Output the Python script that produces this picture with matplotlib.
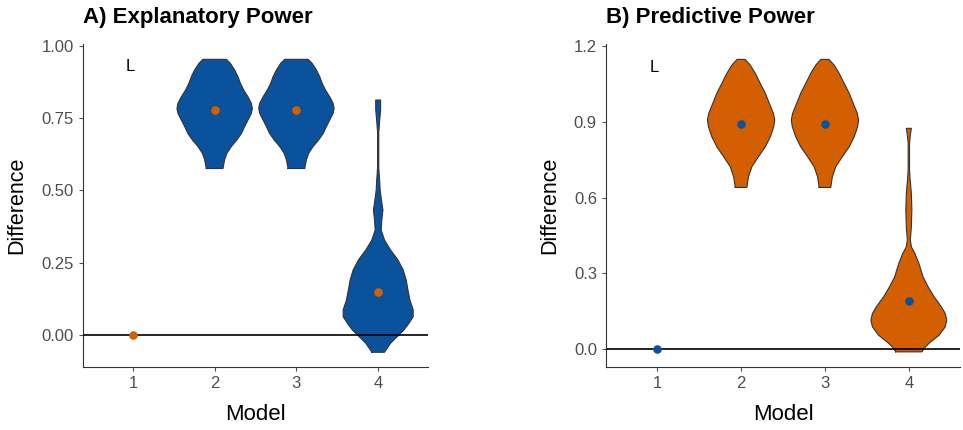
import matplotlib
matplotlib.use("Agg")
import matplotlib.pyplot as plt
import numpy as np

plt.rcParams['font.family'] = ['Liberation Sans', 'DejaVu Sans']

# model positions and point estimates
models = [1, 2, 3, 4]
expl_points = [0.0, 0.78, 0.78, 0.15]
pred_points = [0.0, 0.89, 0.89, 0.19]

# violin outlines: y levels and half widths (in model units)
expl_v2_y = [0.576, 0.606, 0.629, 0.652, 0.675, 0.697, 0.721, 0.744, 0.767, 0.784,
             0.802, 0.824, 0.848, 0.871, 0.894, 0.917, 0.940, 0.954]
expl_v2_w = [0.102, 0.122, 0.151, 0.204, 0.273, 0.327, 0.367, 0.408, 0.449, 0.461,
             0.449, 0.408, 0.355, 0.315, 0.285, 0.245, 0.192, 0.143]
expl_v4_y = [-0.060, -0.029, -0.006, 0.017, 0.040, 0.063, 0.087, 0.121, 0.156, 0.190,
             0.225, 0.260, 0.294, 0.329, 0.363, 0.398, 0.433, 0.467, 0.502, 0.536,
             0.58, 0.70, 0.74, 0.78, 0.813]
expl_v4_w = [0.077, 0.151, 0.233, 0.315, 0.376, 0.428, 0.428, 0.388, 0.364, 0.343,
             0.306, 0.241, 0.151, 0.077, 0.037, 0.045, 0.058, 0.040, 0.024, 0.018,
             0.007, 0.007, 0.018, 0.030, 0.030]
pred_v2_y = [0.640, 0.682, 0.722, 0.762, 0.801, 0.841, 0.880, 0.907, 0.933, 0.973,
             1.013, 1.052, 1.092, 1.125, 1.147]
pred_v2_w = [0.069, 0.088, 0.129, 0.208, 0.289, 0.349, 0.389, 0.401, 0.386, 0.337,
             0.289, 0.229, 0.169, 0.108, 0.048]
pred_v4_y = [-0.011, 0.003, 0.023, 0.055, 0.088, 0.115, 0.141, 0.168, 0.207, 0.247,
             0.286, 0.339, 0.379, 0.405, 0.432, 0.484, 0.551, 0.617, 0.669, 0.709,
             0.815, 0.848, 0.874]
pred_v4_w = [0.157, 0.181, 0.241, 0.361, 0.434, 0.452, 0.434, 0.386, 0.301, 0.229,
             0.169, 0.120, 0.072, 0.030, 0.018, 0.030, 0.036, 0.030, 0.016, 0.008,
             0.008, 0.018, 0.030]

blue = '#0B529D'
orange = '#D45F00'
grey = '#4D4D4D'


def draw_violin(ax, x, ys, ws, color):
    ys = np.array(ys)
    ws = np.array(ws)
    ax.fill_betweenx(ys, x - ws, x + ws, facecolor=color, edgecolor='none', zorder=2)
    # outline incl. flat top / bottom
    ox = np.concatenate([x - ws, (x + ws)[::-1], [x - ws[0]]])
    oy = np.concatenate([ys, ys[::-1], [ys[0]]])
    ax.plot(ox, oy, color='#333333', lw=0.8, zorder=3, solid_joinstyle='round')


def style_axes(ax, title, yticks, ylabels, ylim):
    ax.set_xlim(0.39, 4.61)
    ax.set_ylim(*ylim)
    ax.axhline(0, color='black', lw=1.2, zorder=4)
    ax.set_xticks(models)
    ax.set_xticklabels([str(m) for m in models])
    ax.set_yticks(yticks)
    ax.set_yticklabels(ylabels)
    ax.tick_params(colors=grey, labelsize=12, length=3, width=0.8)
    for s in ['top', 'right']:
        ax.spines[s].set_visible(False)
    ax.spines['left'].set_color('#333333')
    ax.spines['bottom'].set_color('#333333')
    ax.set_xlabel('Model', fontsize=16, labelpad=9)
    ax.set_ylabel('Difference', fontsize=15.5, labelpad=10)
    ax.set_title(title, loc='left', fontsize=16, fontweight='bold', pad=15)


fig = plt.figure(figsize=(9.63, 4.30), dpi=100)
ax1 = fig.add_axes([0.0862, 0.1465, 0.3583, 0.7512])
ax2 = fig.add_axes([0.6293, 0.1465, 0.3676, 0.7512])

# A) explanatory power
draw_violin(ax1, 2, expl_v2_y, expl_v2_w, blue)
draw_violin(ax1, 3, expl_v2_y, expl_v2_w, blue)
draw_violin(ax1, 4, expl_v4_y, expl_v4_w, blue)
ax1.scatter(models, expl_points, s=38, color=orange, zorder=5, linewidths=0)
ax1.text(0.97, 0.93, 'L', fontsize=12, ha='center', va='center')
style_axes(ax1, 'A) Explanatory Power', [0, 0.25, 0.5, 0.75, 1.0],
           ['0.00', '0.25', '0.50', '0.75', '1.00'], (-0.111, 1.007))

# B) predictive power
draw_violin(ax2, 2, pred_v2_y, pred_v2_w, orange)
draw_violin(ax2, 3, pred_v2_y, pred_v2_w, orange)
draw_violin(ax2, 4, pred_v4_y, pred_v4_w, orange)
ax2.scatter(models, pred_points, s=38, color=blue, zorder=5, linewidths=0)
ax2.text(0.97, 1.115, 'L', fontsize=12, ha='center', va='center')
style_axes(ax2, 'B) Predictive Power', [0, 0.3, 0.6, 0.9, 1.2],
           ['0.0', '0.3', '0.6', '0.9', '1.2'], (-0.071, 1.208))

fig.savefig('out.png', dpi=100)
